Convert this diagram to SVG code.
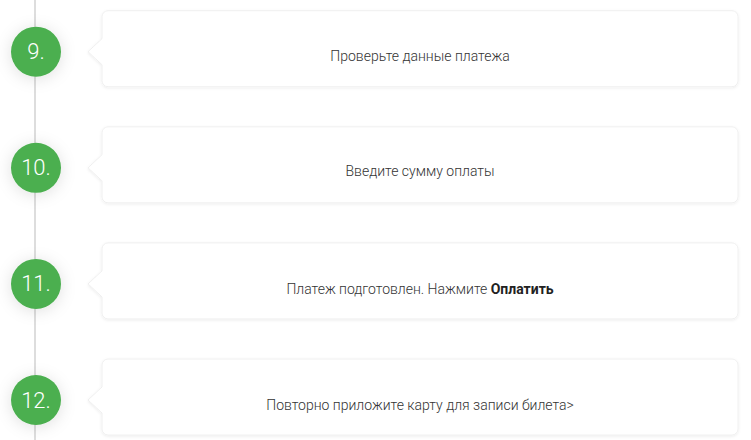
<svg xmlns="http://www.w3.org/2000/svg" width="751" height="440" viewBox="0 0 751 440">
  <style>
    .card { fill: #ffffff; stroke: #ececec; stroke-width: 0.8; filter: url(#cardShadow); }
    .dot { fill: #4caf50; filter: url(#dotShadow); }
    .num { font-family: Roboto, "Liberation Sans", sans-serif; font-weight: 300; font-size: 22px; fill: #ffffff; text-anchor: middle; }
    .label { font-family: Roboto, "Liberation Sans", sans-serif; font-weight: 300; font-size: 14px; fill: #333333; text-anchor: middle; }
    .label .b { font-weight: 700; fill: #222222; }
    .line { stroke: #dddddd; stroke-width: 2; fill: none; }
  </style>
  <defs>
    <filter id="cardShadow" x="-5%" y="-20%" width="110%" height="150%">
      <feDropShadow dx="0" dy="1" stdDeviation="1.5" flood-color="#000000" flood-opacity="0.08"/>
    </filter>
    <filter id="dotShadow" x="-100%" y="-100%" width="300%" height="300%">
      <feDropShadow dx="0" dy="2" stdDeviation="8" flood-color="#000000" flood-opacity="0.12"/>
    </filter>
    <path id="cardShape" d="M108 0 H732 A6 6 0 0 1 738 6 V70 A6 6 0 0 1 732 76 H108 A6 6 0 0 1 102 70 V54 L88 41 L102 28 V6 A6 6 0 0 1 108 0 Z"/>
  </defs>
  <rect width="751" height="440" fill="#ffffff"/>
  <g id="connectors">
    <line class="line" x1="35" y1="0" x2="35" y2="440"/>
  </g>
  <g id="step9" transform="translate(0,10.7)">
    <use href="#cardShape" class="card"/>
    <circle class="dot" cx="36" cy="41" r="25"/>
    <text class="num" x="36" y="48.5">9.</text>
    <text class="label" x="420" y="50">Проверьте данные платежа</text>
  </g>
  <g id="step10" transform="translate(0,126.8)">
    <use href="#cardShape" class="card"/>
    <circle class="dot" cx="36" cy="41" r="25"/>
    <text class="num" x="36" y="48.5">10.</text>
    <text class="label" x="420" y="49.5">Введите сумму оплаты</text>
  </g>
  <g id="step11" transform="translate(0,242.9)">
    <use href="#cardShape" class="card"/>
    <circle class="dot" cx="36" cy="41" r="25"/>
    <text class="num" x="36" y="48.5">11.</text>
    <text class="label" x="420" y="51">Платеж подготовлен. Нажмите <tspan class="b">Оплатить</tspan></text>
  </g>
  <g id="step12" transform="translate(0,359)">
    <use href="#cardShape" class="card"/>
    <circle class="dot" cx="36" cy="41" r="25"/>
    <text class="num" x="36" y="48.5">12.</text>
    <text class="label" x="420" y="51">Повторно приложите карту для записи билета&gt;</text>
  </g>
</svg>
